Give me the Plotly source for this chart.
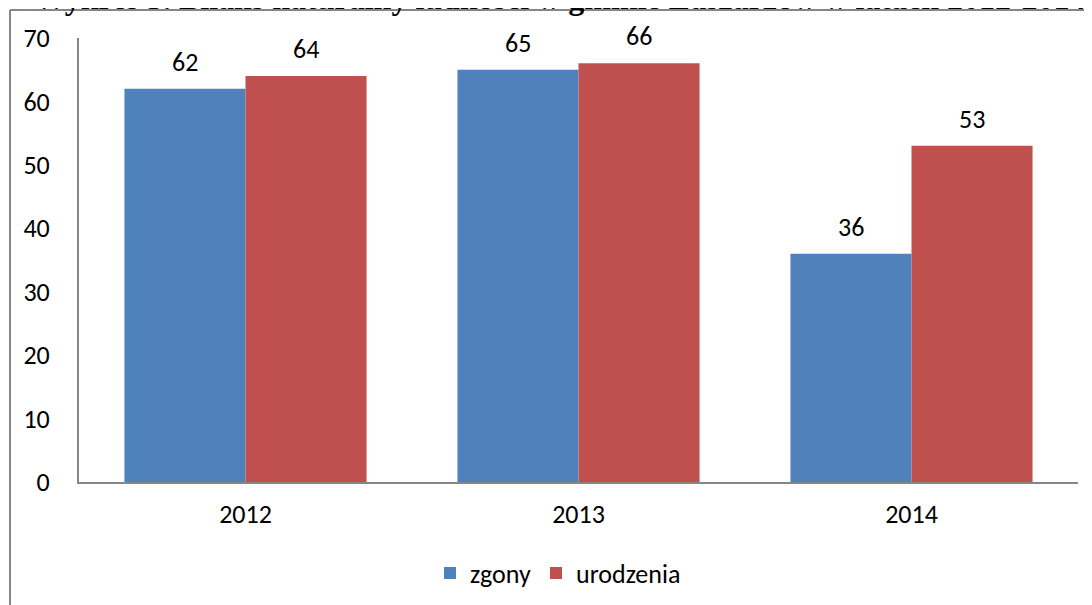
import plotly.graph_objects as go

years = ["2012", "2013", "2014"]
zgony = [62, 65, 36]
urodzenia = [64, 66, 53]
y_ticks = [0, 10, 20, 30, 40, 50, 60, 70]
title_text = "Wykres 3. Bilans naturalny ludności w gminie Łaszarzów w latach 2012-2014"

W, H = 1092, 605
OFF = 8  # page offset of the figure in the browser window
L, T = 79 - OFF, 38 - OFF
R = W - (1078 - OFF)
B = H - (482 - OFF)
pw, ph = W - L - R, H - T - B

font_family = "Carlito, Calibri, Lato, sans-serif"
FS = 26
BAR_PX = 121  # rendered bar width, used only to centre the value labels

fig = go.Figure()
fig.add_trace(go.Bar(x=years, y=zgony, name="zgony", marker=dict(color="#4F81BD", line=dict(width=0))))
fig.add_trace(go.Bar(x=years, y=urodzenia, name="urodzenia", marker=dict(color="#C0504D", line=dict(width=0))))

def px_x(p):
    # p given in reference page pixels
    return (p - OFF - L) / pw

def px_y(p):
    return (H - B - (p - OFF)) / ph

annotations = [
    dict(text="<b>" + title_text + "</b>", xref="paper", yref="paper", x=px_x(560), y=px_y(-2),
         xanchor="center", yanchor="middle", showarrow=False,
         font=dict(family="Liberation Serif, Times New Roman, serif", size=32, color="#000000"))
]
for i, series in enumerate([zgony, urodzenia]):
    for j, v in enumerate(series):
        annotations.append(dict(x=j, y=v, xref="x", yref="y", text=str(v), showarrow=False,
                                xshift=(i - 0.5) * BAR_PX, yshift=27, xanchor="center", yanchor="middle",
                                font=dict(size=FS, family=font_family, color="#000000")))

fig.update_layout(
    width=W, height=H,
    margin=dict(l=L, r=R, t=T, b=B, pad=0),
    paper_bgcolor="white", plot_bgcolor="white",
    barmode="group", bargap=0.273, bargroupgap=0,
    font=dict(family=font_family, size=FS, color="#000000"),
    showlegend=True,
    legend=dict(orientation="h", x=px_x(558), xanchor="center", y=px_y(573), yanchor="middle",
                font=dict(size=FS, family=font_family), itemwidth=30, traceorder="normal"),
    xaxis=dict(type="category", categoryorder="array", categoryarray=years, range=[-0.5, len(years) - 0.5],
               showline=True, linecolor="#868686", linewidth=2, ticks="", showgrid=False,
               ticklabelstandoff=8, tickfont=dict(size=FS, family=font_family)),
    yaxis=dict(range=[0, 70], tickvals=y_ticks, showline=True, linecolor="#868686", linewidth=2,
               ticks="", showgrid=False, zeroline=False, ticklabelstandoff=22,
               tickfont=dict(size=FS, family=font_family)),
    shapes=[
        dict(type="line", xref="paper", yref="paper", x0=px_x(10), x1=px_x(1110), y0=px_y(10), y1=px_y(10),
             line=dict(color="#868686", width=2)),
        dict(type="line", xref="paper", yref="paper", x0=px_x(10), x1=px_x(10), y0=px_y(10), y1=px_y(630),
             line=dict(color="#868686", width=2)),
    ],
    annotations=annotations,
)

fig.write_html("out.html")
